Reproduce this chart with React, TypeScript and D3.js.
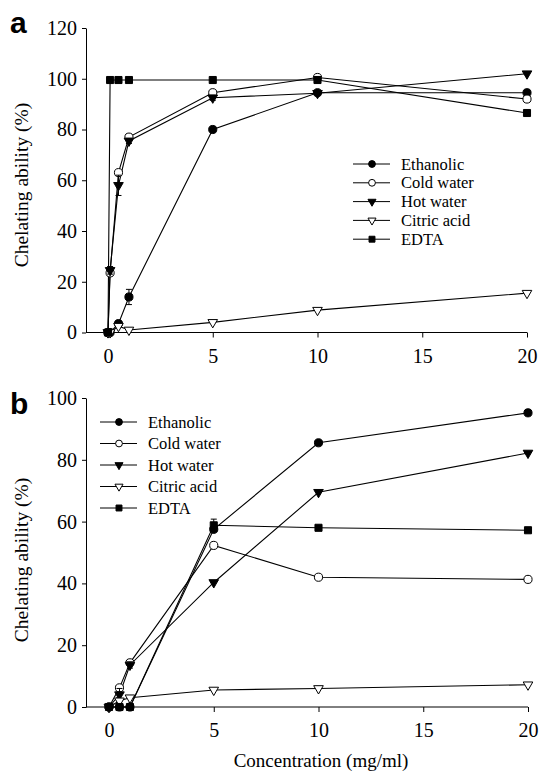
import { useEffect, useRef } from "react";
import * as d3 from "d3";

const seriesNames = ["Ethanolic", "Cold water", "Hot water", "Citric acid", "EDTA"];
const xTickValues = [0, 5, 10, 15, 20];

// panel a
const concA = [0, 0.1, 0.5, 1, 5, 10, 20];
const ethanolicA = [0, 0, 3.5, 14, 80, 94.5, 94.5];
const coldWaterA = [0, 23.5, 63, 77, 94.5, 100.5, 92];
const hotWaterA = [0, 24.5, 58, 75.5, 92.5, 94.3, 102];
const citricAcidA = [0, 0, 2.5, 1, 4, 8.8, 15.5];
const edtaA = [0, 99.5, 99.5, 99.5, 99.5, 99.5, 86.5];
const ethanolicErrA = [0, 0, 1, 3, 0, 0, 0];
const hotWaterErrA = [0, 1.5, 4, 1, 1, 0, 0];
const yTicksA = [0, 20, 40, 60, 80, 100, 120];

// panel b
const concB = [0, 0.5, 1, 5, 10, 20];
const ethanolicB = [0, 0, 0, 57.5, 85.5, 95.2];
const coldWaterB = [0, 6.2, 14.3, 52.3, 42, 41.3];
const hotWaterB = [0, 4, 13.6, 40.3, 69.5, 82.2];
const citricAcidB = [0, 2, 3, 5.5, 6, 7.2];
const edtaB = [0, 0, 0, 58.8, 58, 57.2];
const hotWaterErrB = [0, 2, 1, 0, 0, 0];
const edtaErrB = [0, 0, 0, 2, 0, 0];
const yTicksB = [0, 20, 40, 60, 80, 100];

const shapes = ["circle", "circle", "triangle", "triangle", "square"];
const filled = [true, false, true, false, true];

const serif = "Liberation Serif, DejaVu Serif, serif";

function marker(shape: string, scale = 1) {
  if (shape === "circle") return d3.symbol(d3.symbolCircle, 52 * scale)();
  if (shape === "square") return d3.symbol(d3.symbolSquare, 50 * scale)();
  return d3.symbol(d3.symbolTriangle, 40 * scale)();
}

function drawPanel(svg: any, cfg: any) {
  const x = d3.scaleLinear().domain([0, 20]).range(cfg.xRange);
  const y = d3.scaleLinear().domain([0, cfg.yMax]).range([cfg.bottom, cfg.top]);
  const g = svg.append("g");

  // x axis
  const xa = g
    .append("g")
    .attr("transform", `translate(0,${cfg.bottom})`)
    .call(d3.axisBottom(x).tickValues(xTickValues).tickSize(5).tickSizeOuter(0).tickPadding(11));
  xa.select(".domain").remove();
  xa.attr("font-size", null).attr("font-family", null);
  xa.selectAll("text").style("font-family", serif).style("font-size", "20px");
  g.append("line")
    .attr("x1", cfg.axisX)
    .attr("x2", x(20))
    .attr("y1", cfg.bottom)
    .attr("y2", cfg.bottom)
    .attr("stroke", "#000");

  // y axis
  const ya = g
    .append("g")
    .attr("transform", `translate(${cfg.axisX},0)`)
    .call(d3.axisLeft(y).tickValues(cfg.yTicks).tickSize(4).tickSizeOuter(0).tickPadding(5));
  ya.attr("font-size", null).attr("font-family", null);
  ya.selectAll("text").style("font-family", serif).style("font-size", "20px");

  g.append("text")
    .attr("transform", `translate(28,${cfg.titleY}) rotate(-90)`)
    .attr("text-anchor", "middle")
    .style("font-family", serif)
    .style("font-size", "19.5px")
    .text("Chelating ability (%)");

  g.append("text")
    .attr("x", 10)
    .attr("y", cfg.letterY)
    .style("font-family", "Liberation Sans, Arial, sans-serif")
    .style("font-weight", "bold")
    .style("font-size", "30px")
    .text(cfg.letter);

  const line = d3
    .line<number>()
    .x((_, i) => x(cfg.conc[i]))
    .y((d) => y(d));

  cfg.series.forEach((vals: number[]) => {
    g.append("path").attr("d", line(vals)).attr("fill", "none").attr("stroke", "#000").attr("stroke-width", 1.1);
  });

  cfg.series.forEach((vals: number[], s: number) => {
    const errs: number[] = cfg.errors[s];
    const eg = g.append("g").attr("stroke", "#000");
    vals.forEach((v, i) => {
      const e = errs ? errs[i] : 0;
      if (!e) return;
      const cx = x(cfg.conc[i]);
      eg.append("line").attr("x1", cx).attr("x2", cx).attr("y1", y(v - e)).attr("y2", y(v + e));
      eg.append("line").attr("x1", cx - 3).attr("x2", cx + 3).attr("y1", y(v - e)).attr("y2", y(v - e));
      eg.append("line").attr("x1", cx - 3).attr("x2", cx + 3).attr("y1", y(v + e)).attr("y2", y(v + e));
    });
    g.append("g")
      .selectAll("path")
      .data(vals)
      .join("path")
      .attr("d", marker(shapes[s]))
      .attr("transform", (d: number, i: number) =>
        `translate(${x(cfg.conc[i])},${y(d)})` + (shapes[s] === "triangle" ? " rotate(180)" : "")
      )
      .attr("fill", filled[s] ? "#000" : "#fff")
      .attr("stroke", "#000")
      .attr("stroke-width", 1);
  });

  // legend
  const lg = g.append("g");
  seriesNames.forEach((name, s) => {
    const ry = cfg.legend.y + s * cfg.legend.step;
    const lx = cfg.legend.x;
    lg.append("line").attr("x1", lx).attr("x2", lx + 37).attr("y1", ry).attr("y2", ry).attr("stroke", "#000");
    lg.append("path")
      .attr("d", marker(shapes[s], 0.7))
      .attr("transform", `translate(${lx + 19},${ry})` + (shapes[s] === "triangle" ? " rotate(180)" : ""))
      .attr("fill", filled[s] ? "#000" : "#fff")
      .attr("stroke", "#000");
    lg.append("text")
      .attr("x", lx + 48)
      .attr("y", ry + 5.5)
      .style("font-family", serif)
      .style("font-size", "16.5px")
      .text(name);
  });
}

export default function App() {
  const svgRef = useRef<SVGSVGElement>(null);

  useEffect(() => {
    if (!svgRef.current) return;
    const svg = d3.select(svgRef.current);
    svg.selectAll("*").remove();

    drawPanel(svg, {
      conc: concA,
      series: [ethanolicA, coldWaterA, hotWaterA, citricAcidA, edtaA],
      errors: [ethanolicErrA, null, hotWaterErrA, null, null],
      yMax: 120,
      yTicks: yTicksA,
      xRange: [108, 527],
      axisX: 86,
      top: 28,
      bottom: 332.5,
      titleY: 185,
      letter: "a",
      letterY: 33,
      legend: { x: 353, y: 164, step: 18.8 },
    });

    drawPanel(svg, {
      conc: concB,
      series: [ethanolicB, coldWaterB, hotWaterB, citricAcidB, edtaB],
      errors: [null, null, hotWaterErrB, null, edtaErrB],
      yMax: 100,
      yTicks: yTicksB,
      xRange: [109, 528],
      axisX: 86,
      top: 398,
      bottom: 707,
      titleY: 560,
      letter: "b",
      letterY: 414,
      legend: { x: 100, y: 422, step: 21.5 },
    });

    svg
      .append("text")
      .attr("x", 321)
      .attr("y", 767)
      .attr("text-anchor", "middle")
      .style("font-family", serif)
      .style("font-size", "19px")
      .text("Concentration (mg/ml)");
  }, []);

  return (
    <svg
      ref={svgRef}
      width={541}
      height={772}
      style={{ position: "absolute", left: 0, top: 0, background: "#fff" }}
    />
  );
}
